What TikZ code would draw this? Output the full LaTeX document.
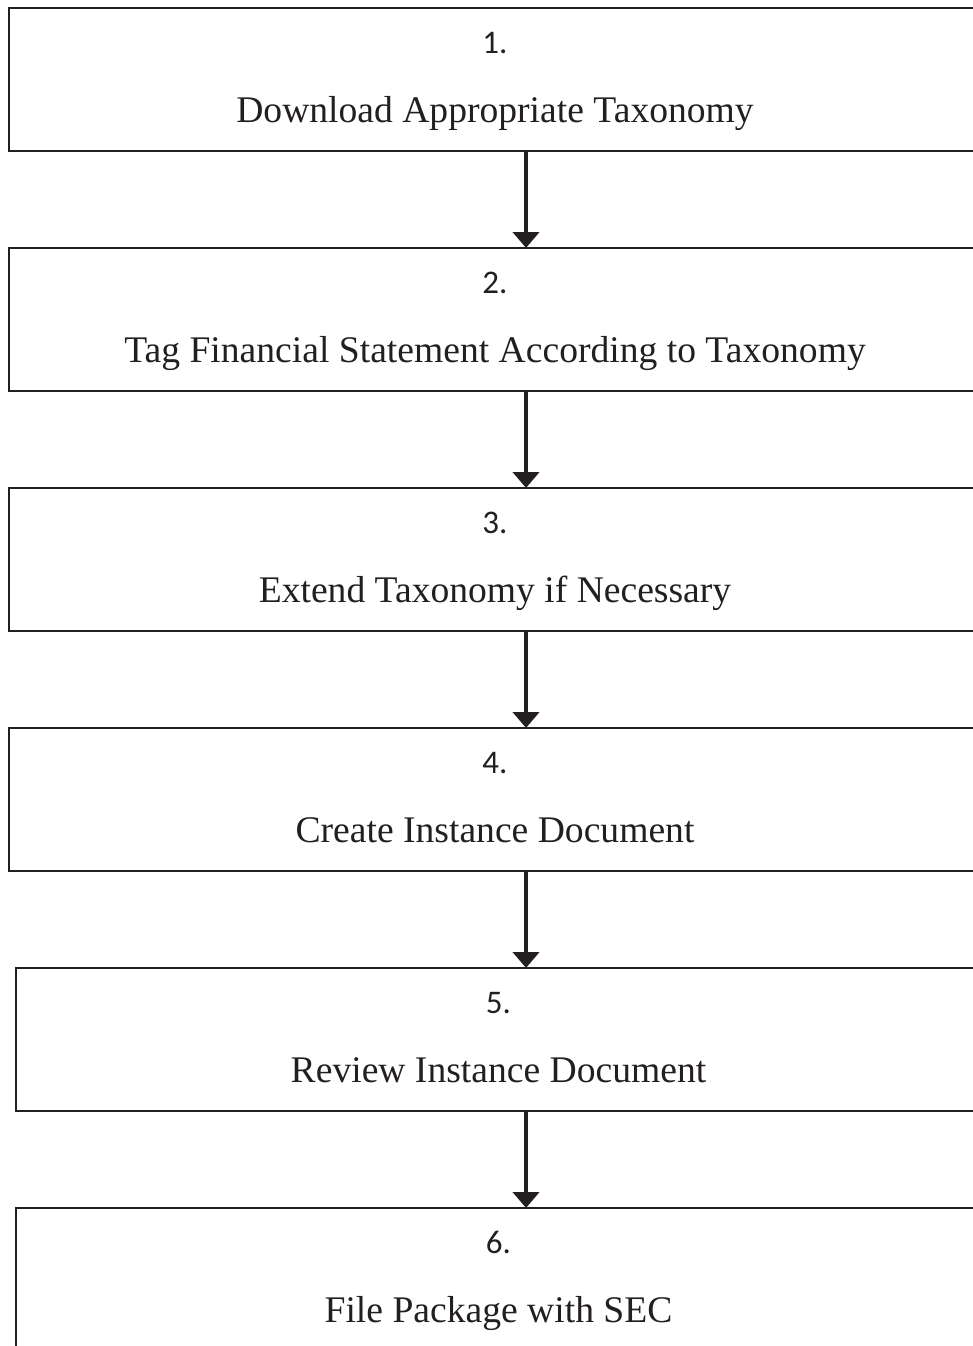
\documentclass[tikz,border=0pt]{standalone}
\usepackage{fontspec}
\setmainfont{Liberation Serif}
\newfontfamily\numfont{Carlito}
\usetikzlibrary{arrows.meta}
\definecolor{ink}{HTML}{231F20}
\begin{document}
\begin{tikzpicture}[x=1pt,y=-1pt,
  stepbox/.style={draw=ink,line width=2.2pt,minimum height=143pt,inner sep=0pt,outer sep=0pt},
  wide/.style={minimum width=972pt},
  narrow/.style={minimum width=965pt},
  numtxt/.style={anchor=base,inner sep=0pt,text=ink,font=\numfont\fontsize{33}{36}\selectfont},
  steptxt/.style={anchor=base,inner sep=0pt,text=ink,font=\fontsize{37.6}{42}\selectfont},
  arr/.style={draw=ink,line width=4.5pt,-{Triangle[width=26pt,length=16pt]}}]
\useasboundingbox (0,0) rectangle (973,1346);
\clip (0,0) rectangle (973,1346);
\coordinate (ax) at (526,0);
\node[stepbox,wide]   (b1) at (495,79.5) {};
\node[stepbox,wide]   (b2) at (495,319.5) {};
\node[stepbox,wide]   (b3) at (495,559.5) {};
\node[stepbox,wide]   (b4) at (495,799.5) {};
\node[stepbox,narrow] (b5) at (498.5,1039.5) {};
\node[stepbox,narrow] (b6) at (498.5,1279.5) {};
\node[numtxt]  (n1) at ([yshift=-45pt]b1.north) {1.};
\node[steptxt] (t1) at ([yshift=-114pt]b1.north) {Download Appropriate Taxonomy};
\node[numtxt]  (n2) at ([yshift=-45pt]b2.north) {2.};
\node[steptxt] (t2) at ([yshift=-114pt]b2.north) {Tag Financial Statement According to Taxonomy};
\node[numtxt]  (n3) at ([yshift=-45pt]b3.north) {3.};
\node[steptxt] (t3) at ([yshift=-114pt]b3.north) {Extend Taxonomy if Necessary};
\node[numtxt]  (n4) at ([yshift=-45pt]b4.north) {4.};
\node[steptxt] (t4) at ([yshift=-114pt]b4.north) {Create Instance Document};
\node[numtxt]  (n5) at ([yshift=-45pt]b5.north) {5.};
\node[steptxt] (t5) at ([yshift=-114pt]b5.north) {Review Instance Document};
\node[numtxt]  (n6) at ([yshift=-45pt]b6.north) {6.};
\node[steptxt] (t6) at ([yshift=-114pt]b6.north) {File Package with SEC};
\draw[arr] (b1.south -| ax) -- (b2.north -| ax);
\draw[arr] (b2.south -| ax) -- (b3.north -| ax);
\draw[arr] (b3.south -| ax) -- (b4.north -| ax);
\draw[arr] (b4.south -| ax) -- (b5.north -| ax);
\draw[arr] (b5.south -| ax) -- (b6.north -| ax);
\end{tikzpicture}
\end{document}
